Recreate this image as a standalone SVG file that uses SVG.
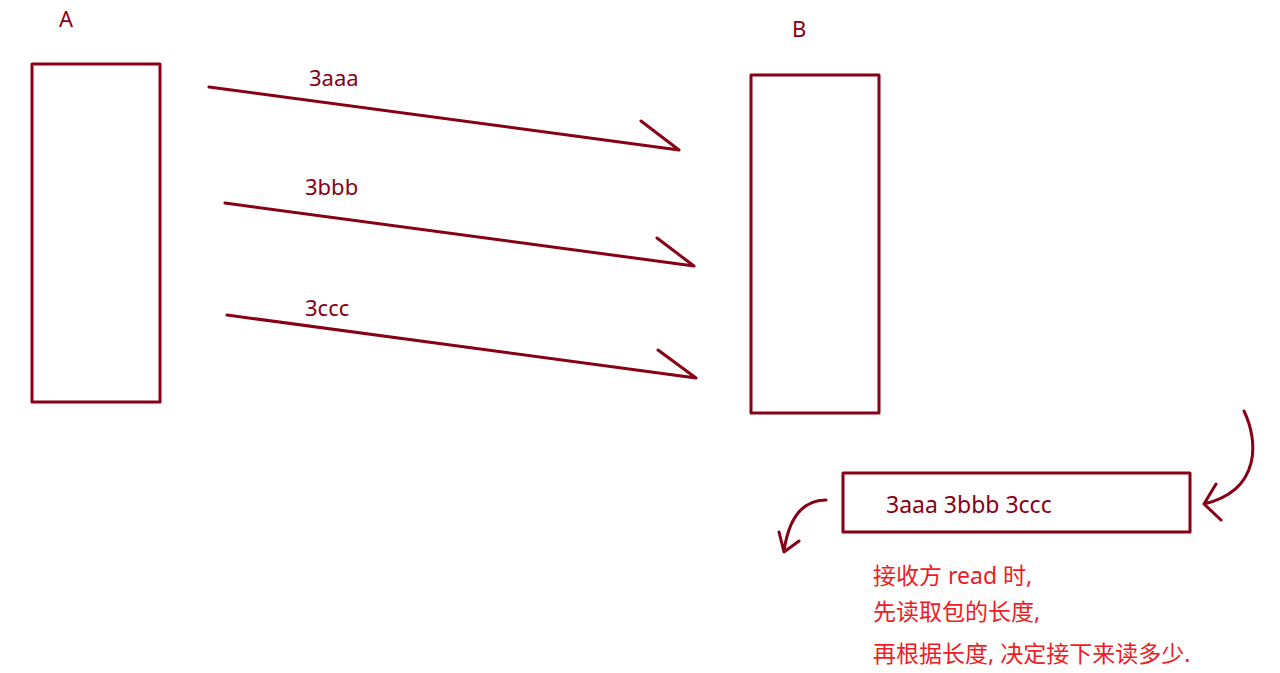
<svg xmlns="http://www.w3.org/2000/svg" width="1280" height="673" viewBox="0 0 1280 673">
<style>
.s{fill:none;stroke:#880015;stroke-width:3;stroke-linecap:round;stroke-linejoin:round}
.t{font-family:"Noto Sans","Noto Sans CJK SC",sans-serif;font-size:22px;fill:#880015}
.b{font-size:23px}
.r{font-family:"Noto Sans","Noto Sans CJK SC",sans-serif;font-size:23px;fill:#ee1c24}
</style>
<rect width="1280" height="673" fill="#fff"/>
<g id="nodeA">
<rect class="s" x="32" y="64" width="128" height="338"/>
<text class="t" x="59" y="27">A</text>
</g>
<g id="nodeB">
<rect class="s" x="751" y="75" width="128" height="338"/>
<text class="t" x="792" y="37">B</text>
</g>
<g id="buffer">
<rect class="s" x="843" y="473" width="347" height="59"/>
<text class="t b" x="886" y="513">3aaa 3bbb 3ccc</text>
</g>
<g id="note">
<text class="r" x="873" y="584">接收方 read 时,</text>
<text class="r" x="873" y="620">先读取包的长度,</text>
<text class="r" x="873" y="662">再根据长度, 决定接下来读多少.</text>
</g>
<g id="connectors">
<path class="s" d="M209 87 L679 150 M641 121 L679 150"/>
<text class="t" x="309" y="86">3aaa</text>
<path class="s" d="M225 203 L694 266 M657 238 L694 266"/>
<text class="t" x="305" y="195">3bbb</text>
<path class="s" d="M227 315 L696 378 M658 350 L696 378"/>
<text class="t" x="305" y="316">3ccc</text>
<path class="s" d="M1244 411 C1258 440 1262 490 1204 504 M1216 484 L1204 504 L1221 520"/>
<path class="s" d="M826 500 C808 500 790 510 784 551 M779 532 L784 552 L799 541"/>
</g>
</svg>
